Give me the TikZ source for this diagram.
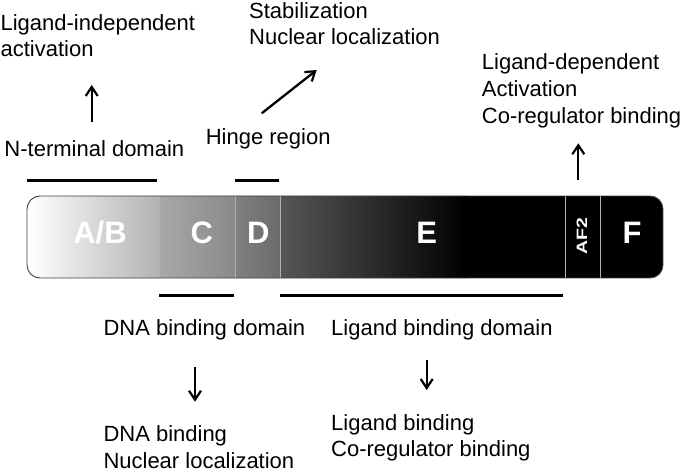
\documentclass[tikz,border=0pt]{standalone}
\usepackage{fontspec}
\setmainfont{Liberation Sans}
\usetikzlibrary{arrows.meta}
\begin{document}
\begin{tikzpicture}[x=1pt,y=-1pt,
  lbl/.style={anchor=base west, inner sep=0pt, font=\fontsize{22}{26}\selectfont, text=black},
  seg/.style={anchor=base, inner sep=0pt, text=white, font=\fontsize{31}{31}\selectfont\bfseries},
  arr/.style={line width=2.3pt, -{Straight Barb[length=9pt,width=12pt,line width=2.2pt]}},
  dline/.style={line width=3pt},
  divider/.style={line width=0.9pt, draw=black!30},
  barframe/.style={rounded corners=13pt, line width=0.9pt, draw=black!75}]
\useasboundingbox (0,0) rectangle (685,473);

% bar with shading
\begin{scope}
\clip[rounded corners=13pt] (27,196) rectangle (663,278);
\shade[left color=white, right color=black!30] (27,196) rectangle (159,278);
\shade[left color=black!34, right color=black!46] (159,196) rectangle (235.5,278);
\shade[left color=black!50, right color=black!58] (235.5,196) rectangle (280,278);
\shade[left color=black!66, right color=black] (280,196) rectangle (467,278);
\fill[black] (467,196) rectangle (663,278);
\end{scope}
\foreach \x in {159,235.5,280,565,600.7} \draw[divider] (\x,196) -- (\x,278);
\draw[barframe] (27,196) rectangle (663,278);

% segment labels
\node[seg] (ab) at (100,243.3) {A/B};
\node[seg] (c) at (201.7,243.3) {C};
\node[seg] (d) at (258.3,243.3) {D};
\node[seg] (e) at (426.7,243.3) {E};
\node[seg] (f) at (632,243.8) {F};
\node[rotate=90, text=white, inner sep=0pt, font=\fontsize{15}{15}\selectfont\bfseries] (af2) at (582,236) {\scalebox{1.3}[1]{AF2}};

% domain lines
\draw[dline] (27,181) -- (157,181);
\draw[dline] (235,181) -- (279.3,181);
\draw[dline] (159,295) -- (234,295);
\draw[dline] (280,295) -- (563,295);

% texts
\node[lbl] (li1) at (0.4,30.7) {Ligand-independent};
\node[lbl] (li2) at (0.4,56.7) {activation};
\node[lbl] (nt) at (4.3,156.7) {N-terminal domain};
\node[lbl] (st1) at (249,19) {Stabilization};
\node[lbl] (st2) at (249,45) {Nuclear localization};
\node[lbl] (hr) at (205.6,145) {Hinge region};
\node[lbl] (ld1) at (481.7,70) {Ligand-dependent};
\node[lbl] (ld2) at (481.7,96.7) {Activation};
\node[lbl] (ld3) at (481.7,123.3) {Co-regulator binding};
\node[lbl] (dbd) at (103.3,335) {DNA binding domain};
\node[lbl] (db1) at (103.3,441.7) {DNA binding};
\node[lbl] (db2) at (103.3,468.3) {Nuclear localization};
\node[lbl] (lbd) at (331,335) {Ligand binding domain};
\node[lbl] (lb1) at (331,430) {Ligand binding};
\node[lbl] (lb2) at (331,456.7) {Co-regulator binding};

% arrows
\coordinate (a1s) at (91.7,121.7);
\coordinate (a1e) at (91.7,85);
\coordinate (a2s) at (261.7,113.3);
\coordinate (a2e) at (316.7,70);
\coordinate (a3s) at (578.3,180);
\coordinate (a3e) at (578.3,143.3);
\coordinate (a4s) at (195,366.7);
\coordinate (a4e) at (195,401.7);
\coordinate (a5s) at (426.7,360);
\coordinate (a5e) at (426.7,390);
\draw[arr] (a1s) -- (a1e);
\draw[arr] (a2s) -- (a2e);
\draw[arr] (a3s) -- (a3e);
\draw[arr] (a4s) -- (a4e);
\draw[arr] (a5s) -- (a5e);
\end{tikzpicture}
\end{document}
